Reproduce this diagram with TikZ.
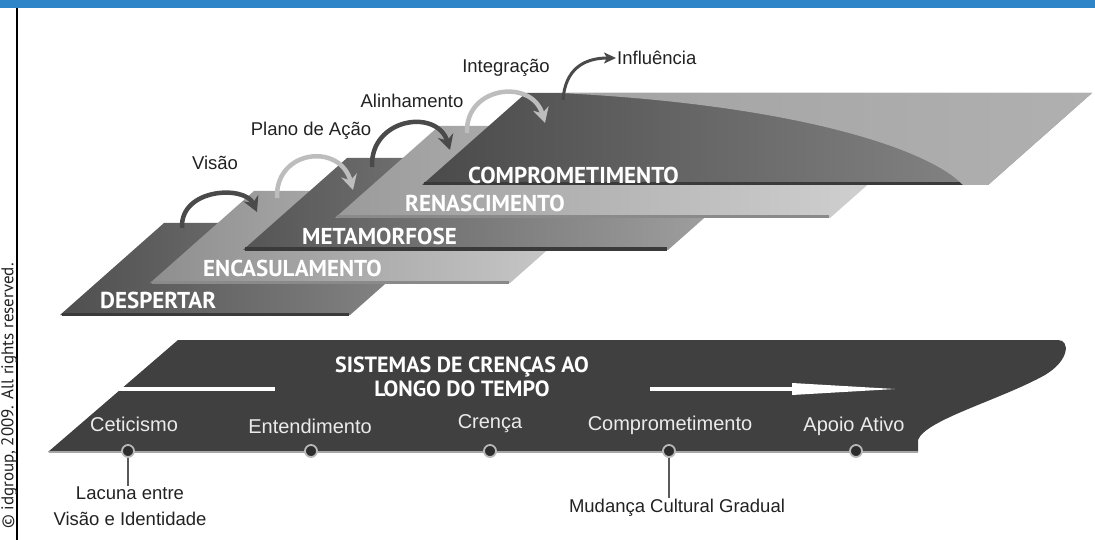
\documentclass[tikz,border=0pt]{standalone}
\usepackage{fontspec}
\setmainfont{Liberation Sans}
\newfontfamily\platefont{PT Sans}
\usepackage{xcolor}
\definecolor{topbar}{HTML}{2E86C8}
\definecolor{ink}{HTML}{222222}
\definecolor{band}{HTML}{404040}
\definecolor{darkleap}{HTML}{4A4A4A}
\definecolor{lightleap}{HTML}{BDBDBD}
\usepackage{tikz}
\usetikzlibrary{arrows.meta}

\begin{document}
\begin{tikzpicture}[x=1pt,y=-1pt,
  lbl/.style={font=\fontsize{18.5}{26}\selectfont,text=ink,inner sep=1pt},
  plbl/.style={font=\platefont\bfseries\fontsize{23}{24}\selectfont,text=white,anchor=west,inner sep=0pt},
  blbl/.style={font=\fontsize{20}{24}\selectfont,text=white!92!black,inner sep=1pt},
  leap/.style={line width=4.5pt,-{Stealth[length=15pt,width=16pt,inset=5pt]}},
  dot/.style={circle,fill=band!70!black,draw=gray!55,line width=1.8pt,minimum size=12pt,inner sep=0pt},
  tick/.style={draw=ink!75,line width=2pt}]
  \useasboundingbox (0,0) rectangle (1095,540);
  \fill[white] (0,0) rectangle (1095,540);
  \fill[topbar] (0,0) rectangle (1095,8);
  \draw[line width=1.5pt] (17,8) -- (17,540);
  \node[rotate=90,font=\platefont\fontsize{17}{17}\selectfont,text=ink] (copy) at (9,396) {\textcopyright{} idgroup, 2009. All rights reserved.};

  % plates, back to front
  \foreach \xl/\xr/\yb/\cl/\cr/\ce in {60/350/315/4F4F4F/8C8C8C/3A3A3A,
      150/510/283/8E8E8E/CFCFCF/8A8A8A,
      243/668/250/555555/A8A8A8/3A3A3A,
      335/830/218/9A9A9A/D6D6D6/8A8A8A,
      422/988/185/4A4A4A/8F8F8F/3A3A3A}{
    \definecolor{pl}{HTML}{\cl}\definecolor{pr}{HTML}{\cr}\definecolor{pe}{HTML}{\ce}
    \shade[left color=pl,right color=pr] (\xl,\yb) -- (\xr,\yb) -- ++(104,-92) -- (\xl+104,\yb-92) -- cycle;
    \draw[pe,line width=3pt] (\xl+2,\yb-1) -- (\xr-1,\yb-1);
  }
  \shade[left color=gray!72,right color=gray!62] (560,93) -- (1092,93) -- (988,185) -- (963,185)
    .. controls (930,150) and (800,105) .. (560,93) -- cycle;

  \node[plbl] (despertar) at (100,300) {DESPERTAR};
  \node[plbl] (encas) at (203,268) {ENCASULAMENTO};
  \node[plbl] (metam) at (302,236) {METAMORFOSE};
  \node[plbl] (renasc) at (405,203) {RENASCIMENTO};
  \node[plbl] (compr) at (468,175) {COMPROMETIMENTO};

  % jumps between plates
  \node[lbl] (visao) at (215,163) {Visão};
  \node[lbl] (plano) at (311,131) {Plano de Ação};
  \node[lbl] (alinh) at (412,101) {Alinhamento};
  \node[lbl] (integ) at (506,68) {Integração};
  \node[lbl,anchor=west] (influ) at (616,58) {Influência};
  \coordinate (a1) at (182,228); \coordinate (b1) at (257,212);
  \coordinate (a2) at (277,198); \coordinate (b2) at (353,190);
  \coordinate (a3) at (372,167); \coordinate (b3) at (450,150);
  \coordinate (a4) at (467,133); \coordinate (b4) at (545,123);
  \coordinate (a5) at (563,100);
  \draw[leap,darkleap] (a1) .. controls +(-2,-40) and +(-12,-27) .. (b1);
  \draw[leap,lightleap] (a2) .. controls +(-2,-48) and +(-13,-48) .. (b2);
  \draw[leap,darkleap] (a3) .. controls +(-2,-49) and +(-13,-42) .. (b3);
  \draw[leap,lightleap] (a4) .. controls +(-2,-47) and +(-13,-45) .. (b4);
  \draw[darkleap,line width=3pt,-{Stealth[length=12pt,width=11pt,inset=3pt]}] (a5) .. controls +(2,-30) and +(-33,0) .. (influ.west);

  % belief band
  \fill[band] (48,452) -- (178,340) -- (1058,340) .. controls (1070,340) and (1070,360) .. (1045,375)
    .. controls (1000,400) and (925,420) .. (918,440) -- (918,452) -- cycle;
  \draw[gray!70,line width=2pt] (49,452) -- (918,452);
  \node[font=\platefont\bfseries\fontsize{22}{24}\selectfont,text=white,align=center] (title) at (462,377) {SISTEMAS DE CRENÇAS AO\\LONGO DO TEMPO};
  \coordinate (w1) at (118,389); \coordinate (w2) at (275,389);
  \coordinate (w3) at (650,389); \coordinate (w4) at (895,389);
  \draw[white,line width=4pt] (w1) -- (w2);
  \draw[white,line width=4pt] (w3) -- (796,389);
  \fill[white] (792,383) -- (w4) -- (792,395) -- cycle;

  \node[blbl] (cet) at (134,424) {Ceticismo};
  \node[blbl] (ent) at (310,426) {Entendimento};
  \node[blbl] (cre) at (490,424) {Crença};
  \node[blbl] (com) at (670,425) {Comprometimento};
  \node[blbl] (apo) at (854,426) {Apoio Ativo};
  \foreach \n/\x in {1/128,2/311,3/490,4/669,5/856}
    \node[dot] (d\n) at (\x,451) {};

  \node[lbl,align=center,anchor=north] (lacuna) at (130,486) {Lacuna entre\\Visão e Identidade};
  \node[lbl] (mud) at (677,508) {Mudança Cultural Gradual};
  \draw[tick] (d1) -- (d1 |- lacuna.north);
  \draw[tick] (d4) -- (d4 |- mud.north);
\end{tikzpicture}
\end{document}
